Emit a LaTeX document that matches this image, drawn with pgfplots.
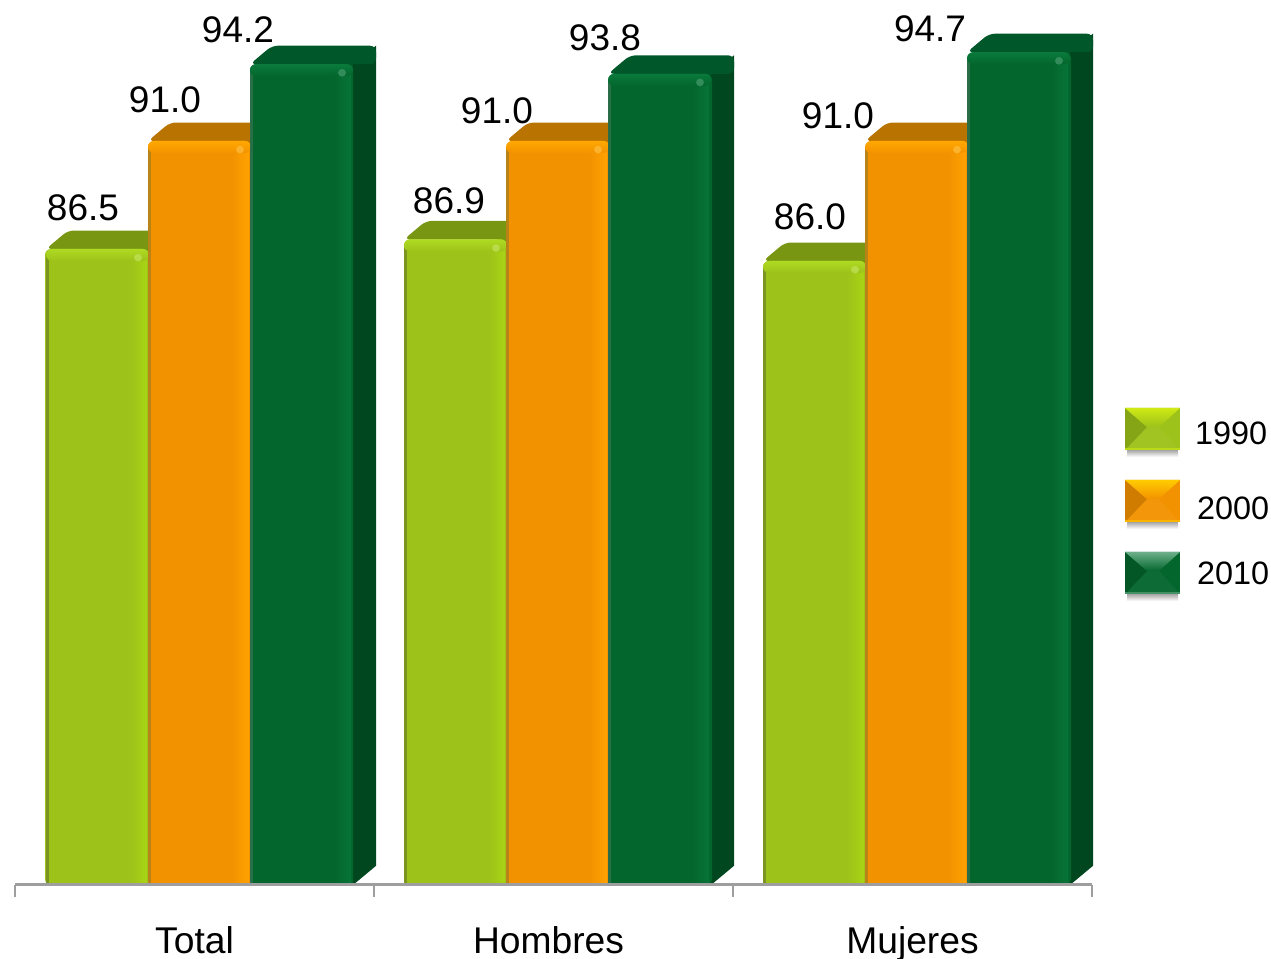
\documentclass[border=0pt]{standalone}
\usepackage{pgfplots}
\pgfplotsset{compat=1.18}
\usepackage{fontspec}
\setmainfont{Liberation Sans}
\definecolor{limeMain}{HTML}{9DC21A}
\definecolor{limeLight}{HTML}{A8D414}
\definecolor{limeBevel}{HTML}{AEDA22}
\definecolor{limeTop}{HTML}{789612}
\definecolor{limeSide}{HTML}{6E8A10}
\definecolor{limeEdge}{HTML}{7C9420}
\definecolor{orMain}{HTML}{F39200}
\definecolor{orLight}{HTML}{FFA200}
\definecolor{orBevel}{HTML}{FFA800}
\definecolor{orTop}{HTML}{B87300}
\definecolor{orSide}{HTML}{A86800}
\definecolor{orEdge}{HTML}{B88418}
\definecolor{grMain}{HTML}{03662D}
\definecolor{grLight}{HTML}{087438}
\definecolor{grBevel}{HTML}{0A7A3C}
\definecolor{grTop}{HTML}{00582A}
\definecolor{grSide}{HTML}{00461E}
\definecolor{grEdge}{HTML}{2A6E48}
% x1 of the front face, value, colour prefix
\newcommand\backfaces[3]{%
  \pgfmathsetmacro\xb{#1+103}\pgfmathsetmacro\xtl{#1+22}\pgfmathsetmacro\xtr{#1+126}%
  \pgfmathsetmacro\vt{#2+0.77}\pgfmathsetmacro\vbb{60+0.8}%
  \pgfmathsetmacro\xp{#1+93}\pgfmathsetmacro\vp{#2-0.3}%
  \addplot[draw=none,fill=#3Side,forget plot] coordinates {(\xb,60) (\xtr,\vbb) (\xtr,\vt) (\xb,#2)} --cycle;
  \addplot[draw=none,fill=#3Top,rounded corners=3pt,forget plot] coordinates {(#1,#2) (\xtl,\vt) (\xtr,\vt) (\xtr,#2) (\xb,#2)} --cycle;
  \addplot[draw=none,fill=#3Top,forget plot] coordinates {(\xp,\vp) (\xb,\vp) (\xb,#2) (\xp,#2)} --cycle;
  \addplot[draw=none,fill=#3Main,forget plot] coordinates {(#1,60) (\xb,60) (\xb,60.4) (#1,60.4)} --cycle;
}
% edges and bevel on a front face
\newcommand\bevel[3]{%
  \pgfmathsetmacro\xb{#1+103}\pgfmathsetmacro\xe{#1+2.5}\pgfmathsetmacro\xs{#1+84}\pgfmathsetmacro\xr{#1+101}\pgfmathsetmacro\vl{#2-0.5}\pgfmathsetmacro\vs{#2-0.2}%
  \pgfmathsetmacro\xh{#1+88}\pgfmathsetmacro\xhh{#1+96}\pgfmathsetmacro\vh{#2-0.2}\pgfmathsetmacro\vhh{#2-0.52}%
  \addplot[draw=none,fill=#3Edge,forget plot] coordinates {(#1,60) (\xe,60) (\xe,\vs) (#1,\vs)} --cycle;
  \addplot[draw=none,shade,left color=#3Main,right color=#3Light,forget plot] coordinates {(\xs,60) (\xr,60) (\xr,\vs) (\xs,\vs)} --cycle;
  \addplot[draw=none,shade,top color=#3Bevel,bottom color=#3Main,rounded corners=3pt,forget plot] coordinates {(#1,\vl) (#1,#2) (\xb,#2) (\xb,\vl)} --cycle;
  \addplot[draw=none,fill=#3Bevel!75!white,opacity=0.7,rounded corners=2pt,forget plot] coordinates {(\xh,\vhh) (\xh,\vh) (\xhh,\vh) (\xhh,\vhh)} --cycle;
}
% legend swatch
\newcommand\swatch[3]{%
  \begin{scope}[sharp corners]
  \shade[top color=black!35,bottom color=white] (1pt,-10.5pt) rectangle (26.5pt,-14pt);
  \fill[#2] (0,-10.5pt) rectangle (27.5pt,10.5pt);
  \fill[#2!96!white] (0,-10.5pt) -- (27.5pt,-10.5pt) -- (17pt,1pt) -- (11pt,1pt) -- cycle;
  \fill[#3] (0,-10.5pt) -- (0,10.5pt) -- (11pt,1pt) -- cycle;
  \shade[top color=#1,bottom color=#2] (0,10.5pt) -- (27.5pt,10.5pt) -- (17pt,1pt) -- (11pt,1pt) -- cycle;
  \fill[#1!60!#2] (0,-10.5pt) rectangle (27.5pt,-9.7pt);
  \end{scope}
}
\begin{document}
\begin{tikzpicture}
\useasboundingbox (-7.5pt,-37pt) rectangle (628pt,442.5pt);
\begin{axis}[
  at={(0pt,0pt)}, anchor=south west,
  scale only axis, width=538.5pt, height=442.5pt,
  xmin=15, xmax=1092, ymin=60, ymax=96.875,
  clip=false,
  axis on top,
  axis y line=none,
  axis x line=bottom,
  x axis line style={-, draw=black!38, line width=1.5pt},
  xtick={194.5,548.5,912.5},
  xticklabels={Total,Hombres,Mujeres},
  major tick length=0pt,
  extra x ticks={15,374,733,1092},
  extra x tick labels={},
  extra x tick style={tick align=outside, major tick length=6pt, tick style={draw=black!38, line width=1pt}},
  x tick label style={font=\fontsize{18.6}{20}\selectfont, yshift=-17pt},
  legend style={at={(axis cs:1125,79.875)}, anchor=north west, draw=none, fill=none,
    inner sep=0pt, outer sep=0pt, row sep=11.5pt, font=\fontsize{16.2}{17}\selectfont},
  legend cell align=left,
  every axis plot/.append style={bar width=51.5pt},
]
% 1990
\backfaces{46}{86.5}{lime}\backfaces{404}{86.9}{lime}\backfaces{763}{86.0}{lime}
\addplot[ybar,bar shift=-49pt,draw=none,fill=limeMain,rounded corners=3pt,
  legend image code/.code={\swatch{limeBevel!60!yellow}{limeMain}{limeMain!85!black}}]
  coordinates {(194.5,86.5) (553.5,86.9) (912.5,86.0)};
\addlegendentry{\smash{\raisebox{-8.5pt}{\hspace*{5.5pt}1990}}}
\bevel{46}{86.5}{lime}\bevel{404}{86.9}{lime}\bevel{763}{86.0}{lime}
% 2000
\backfaces{148}{91.0}{or}\backfaces{506}{91.0}{or}\backfaces{865}{91.0}{or}
\addplot[ybar,bar shift=2.5pt,draw=none,fill=orMain,rounded corners=3pt,
  legend image code/.code={\swatch{orBevel!60!yellow}{orMain}{orMain!85!black}}]
  coordinates {(194.5,91.0) (553.5,91.0) (912.5,91.0)};
\addlegendentry{\smash{\raisebox{-10pt}{\hspace*{6.5pt}2000}}}
\bevel{148}{91.0}{or}\bevel{506}{91.0}{or}\bevel{865}{91.0}{or}
% 2010
\backfaces{250}{94.2}{gr}\backfaces{608}{93.8}{gr}\backfaces{967}{94.7}{gr}
\addplot[ybar,bar shift=53.5pt,draw=none,fill=grMain,rounded corners=3pt,
  legend image code/.code={\swatch{grBevel!60!white}{grMain}{grMain!85!black}}]
  coordinates {(194.5,94.2) (553.5,93.8) (912.5,94.7)};
\addlegendentry{\smash{\raisebox{-6.5pt}{\hspace*{6.5pt}2010}}}
\bevel{250}{94.2}{gr}\bevel{608}{93.8}{gr}\bevel{967}{94.7}{gr}
% value labels
\begin{scope}[every node/.style={font=\fontsize{18.5}{20}\selectfont, inner sep=0pt}]
\node at (axis cs:83,88.208) {86.5};
\node at (axis cs:165,92.708) {91.0};
\node at (axis cs:238,95.625) {94.2};
\node at (axis cs:449,88.5) {86.9};
\node at (axis cs:497,92.25) {91.0};
\node at (axis cs:605,95.29) {93.8};
\node at (axis cs:810,87.83) {86.0};
\node at (axis cs:838,92.04) {91.0};
\node at (axis cs:930,95.67) {94.7};
\end{scope}
\end{axis}
\end{tikzpicture}
\end{document}
